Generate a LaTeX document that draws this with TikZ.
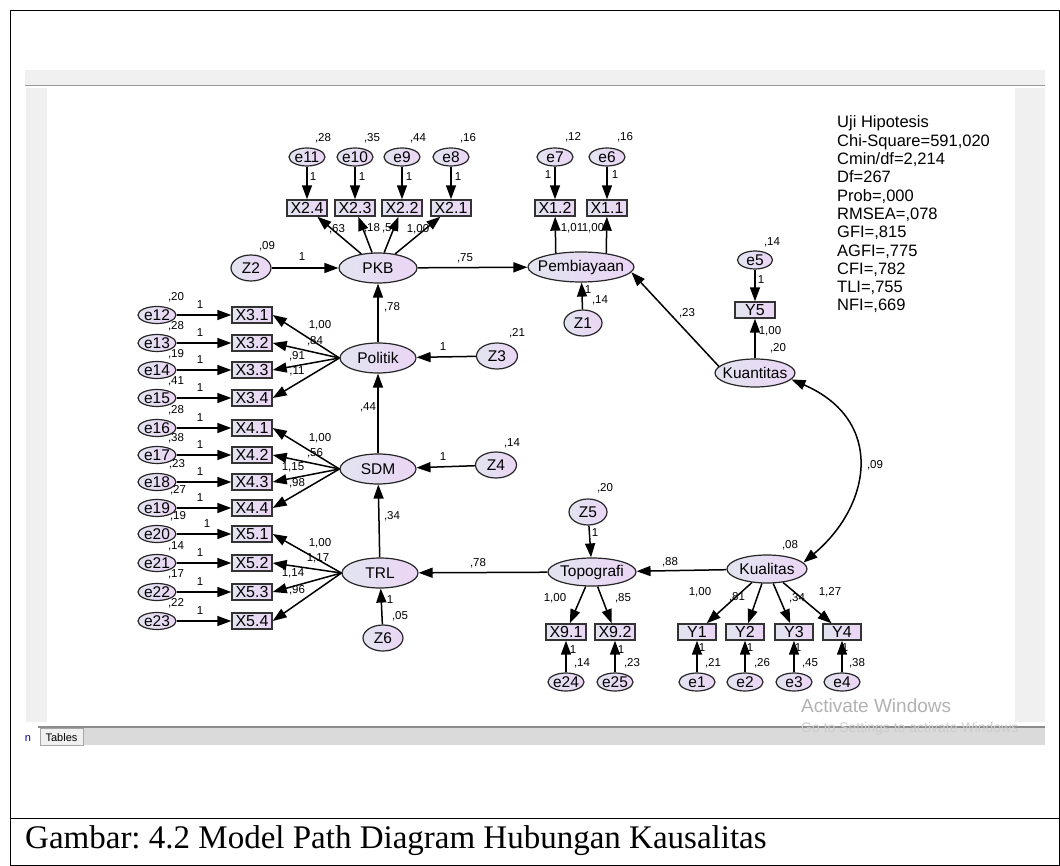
\documentclass[tikz,border=0pt]{standalone}
\usepackage{fontspec}
\setmainfont{Liberation Sans}
\newfontfamily\capfont{Liberation Serif}
\usetikzlibrary{shapes.geometric,arrows.meta}
\pgfdeclarelayer{ui}
\pgfdeclarelayer{edges}
\pgfsetlayers{ui,edges,main}
\frenchspacing

\definecolor{latL}{RGB}{226,228,240}
\definecolor{latR}{RGB}{235,213,245}
\definecolor{uigray}{RGB}{240,240,240}
\definecolor{barg}{RGB}{218,218,218}
\newcommand\mkc[1]{\makebox[0pt]{#1}}
\newcommand\fsz[1]{\fontsize{#1}{#1}\selectfont}

\tikzset{
  lat/.style={ellipse, draw=black!85, line width=1.2pt, left color=latL, right color=latR,
              inner sep=0pt, font=\fsz{15.5}},
  err/.style={ellipse, draw=black!85, line width=1.2pt, left color=latL, right color=latR,
              inner sep=0pt, minimum width=36pt, minimum height=18pt, font=\fsz{15.5}},
  obs/.style={rectangle, draw=black!80, line width=1.4pt, left color=latL, right color=latR,
              inner sep=0pt, minimum width=40pt, minimum height=16pt, font=\fsz{16}},
  lbl/.style={inner sep=0pt, font=\fsz{11.5}},
  arr/.style={line width=1.5pt, -{Triangle[length=14pt,width=10pt]}},
  cov/.style={line width=1.5pt, {Triangle[length=14pt,width=10pt]}-{Triangle[length=14pt,width=10pt]}},
}

\begin{document}
\begin{tikzpicture}[x=1pt,y=-1pt]
\useasboundingbox (0,0) rectangle (1060,866);

% ---------- window chrome and table frame ----------
\begin{pgfonlayer}{ui}
  \fill[white] (0,0) rectangle (1060,866);
  \fill[uigray] (25,70) rectangle (1045,85);
  \draw[black!40, line width=1.5pt] (25,85.5) -- (1045,85.5);
  \fill[uigray] (26,88) rectangle (47,722);
  \fill[uigray] (1015,88) rectangle (1045,722);
  \fill[barg] (40,727) rectangle (1045,745);
  \draw[black!45, line width=1.2pt] (38,727) -- (1045,727);
  \draw[black!35, fill=uigray] (40,728) rectangle (83,745);
  \node[inner sep=0pt, font=\fsz{11}] (tabs) at (61.5,737.5) {Tables};
  \node[inner sep=0pt, font=\fsz{11}, text=blue!60!black] (tabn) at (28,739) {n};
  \draw[line width=1pt] (10.5,10.5) rectangle (1059.5,865.5);
  \draw[line width=1pt] (10.5,818) -- (1059.5,818);
  \begin{scope}
    \clip (0,0) rectangle (1045,866);
    \node[anchor=west, inner sep=0pt, text=black!30, font=\fsz{19}] (wm1) at (801,706) {Activate Windows};
    \node[anchor=west, inner sep=0pt, text=black!20, font=\fsz{14}] (wm2) at (801,729) {Go to Settings to activate Windows};
  \end{scope}
\end{pgfonlayer}

% ---------- latent variables ----------
\node[lat, minimum width=78pt,  minimum height=30pt] (pkb)  at (378,268) {\mkc{PKB}};
\node[lat, minimum width=106pt, minimum height=30pt] (pemb) at (581,267) {\mkc{Pembiayaan}};
\node[lat, minimum width=76pt,  minimum height=30pt] (pol)  at (378,358) {\mkc{Politik}};
\node[lat, minimum width=76pt,  minimum height=30pt] (sdm)  at (378,469) {\mkc{SDM}};
\node[lat, minimum width=76pt,  minimum height=30pt] (trl)  at (380,573) {\mkc{TRL}};
\node[lat, minimum width=88pt,  minimum height=28pt] (topo) at (592,572) {\mkc{Topografi}};
\node[lat, minimum width=80pt,  minimum height=28pt] (kual) at (767,569) {\mkc{Kualitas}};
\node[lat, minimum width=80pt,  minimum height=28pt] (kuan) at (755,373) {\mkc{Kuantitas}};

% ---------- disturbances ----------
\node[lat, minimum width=40pt, minimum height=26pt] (z2) at (251,268) {\mkc{Z2}};
\node[lat, minimum width=38pt, minimum height=26pt] (z1) at (583,323) {\mkc{Z1}};
\node[lat, minimum width=41pt, minimum height=26pt] (z3) at (497,356) {\mkc{Z3}};
\node[lat, minimum width=41pt, minimum height=26pt] (z4) at (496,465) {\mkc{Z4}};
\node[lat, minimum width=40pt, minimum height=26pt] (z6) at (383,638) {\mkc{Z6}};
\node[lat, minimum width=38pt, minimum height=26pt] (z5) at (588,512) {\mkc{Z5}};

% ---------- indicators: PKB and Pembiayaan ----------
\foreach \e/\x in {e11/307, e10/355, e9/402, e8/451, e7/555, e6/607}{
  \node[err] (\e) at (\x,157) {\mkc{\e}};
}
\node[obs] (x24) at (307,208) {X2.4};
\node[obs] (x23) at (355,208) {X2.3};
\node[obs] (x22) at (402,208) {X2.2};
\node[obs] (x21) at (451,208) {X2.1};
\node[obs] (x12) at (555,208) {X1.2};
\node[obs] (x11) at (607,208) {X1.1};

% ---------- left column indicators ----------
\foreach \i/\y/\t in {12/315/X3.1, 13/343/X3.2, 14/370/X3.3, 15/398/X3.4,
                      16/428/X4.1, 17/455/X4.2, 18/482/X4.3, 19/508/X4.4,
                      20/534/X5.1, 21/563/X5.2, 22/592/X5.3, 23/621/X5.4}{
  \node[err, minimum width=38pt, minimum height=17pt] (e\i) at (157,\y) {\mkc{e\i}};
  \node[obs] (b\i) at (252,\y) {\t};
}

% ---------- Topografi, Kualitas, Kuantitas indicators ----------
\node[obs] (x91) at (566,632) {X9.1};
\node[obs] (x92) at (615,632) {X9.2};
\node[err] (e24) at (566,682) {\mkc{e24}};
\node[err] (e25) at (615,682) {\mkc{e25}};
\foreach \k/\x in {1/697, 2/745, 3/794, 4/842}{
  \node[obs, minimum width=38pt] (y\k) at (\x,632) {Y\k};
  \node[err] (e\k) at (\x,682) {\mkc{e\k}};
}
\node[obs] (y5) at (755,310) {Y5};
\node[err, minimum width=35pt] (e5) at (755,260) {\mkc{e5}};

% ---------- connectors ----------
\begin{pgfonlayer}{edges}
  \foreach \e/\b in {e11/x24, e10/x23, e9/x22, e8/x21, e7/x12, e6/x11}
    \draw[arr] (\e) -- (\b);
  \foreach \b in {x24, x23, x22, x21}
    \draw[arr] (pkb) -- (\b);
  \draw[arr] ([xshift=-25pt]pemb.center) -- (x12);
  \draw[arr] ([xshift=25pt]pemb.center) -- (x11);
  \draw[arr] (z2) -- (pkb);
  \draw[arr] (pkb) -- (pemb);
  \draw[arr] (z1) -- (pemb);
  \draw[arr] (pol) -- (pkb);
  \draw[arr] (sdm) -- (pol);
  \draw[arr] (trl) -- (sdm);
  \draw[arr] (z3) -- (pol);
  \draw[arr] (z4) -- (sdm);
  \draw[arr] (z6) -- (trl);
  \foreach \i in {12,...,23}
    \draw[arr] (e\i.east) -- (b\i.west);
  \foreach \i in {12,13,14,15}
    \draw[arr] (pol.west) -- (b\i.east);
  \foreach \i in {16,17,18,19}
    \draw[arr] (sdm.west) -- (b\i.east);
  \foreach \i in {20,21,22,23}
    \draw[arr] (trl.west) -- (b\i.east);
  \draw[arr] (topo) -- (trl);
  \draw[arr] (z5) -- (topo);
  \draw[arr] (kual) -- (topo);
  \draw[arr] (topo) -- (x91);
  \draw[arr] (topo) -- (x92);
  \draw[arr] (e24) -- (x91);
  \draw[arr] (e25) -- (x92);
  \foreach \k in {1,2,3,4}{
    \draw[arr] (kual) -- (y\k);
    \draw[arr] (e\k) -- (y\k);
  }
  \draw[arr] (e5) -- (y5);
  \draw[arr] (kuan) -- (y5);
  \draw[arr] ([xshift=-30pt]kuan.center) -- (pemb.-6);
  \draw[cov] (kuan.-10) .. controls (885,420) and (872,505) .. (kual.10);
\end{pgfonlayer}

% ---------- estimates ----------
\foreach \x/\y/\t [count=\j] in {
  323/138/{,28}, 372/138/{,35}, 418/138/{,44}, 468/138/{,16},
  313/177/1, 362/177/1, 409/177/1, 458/177/1,
  337/229/{,63}, 372/228/{,18}, 390/228/{,56}, 418/229/{1,00},
  267/246/{,09}, 302/257/1, 465/258/{,75},
  573/137/{,12}, 625/137/{,16}, 548/175/1, 615/175/1,
  572/228/{1,01}, 593/228/{1,00},
  588/290/1, 600/300/{,14}, 687/313/{,23},
  517/333/{,21}, 443/347/1, 512/443/{,14}, 443/457/1,
  392/307/{,78}, 368/407/{,44}, 392/516/{,34},
  176/297/{,20}, 176/326/{,28}, 176/354/{,19}, 176/381/{,41},
  176/410/{,28}, 176/438/{,38}, 177/464/{,23}, 178/490/{,27},
  178/516/{,19}, 176/546/{,14}, 176/574/{,17}, 176/603/{,22},
  200/305/1, 200/333/1, 200/360/1, 200/388/1,
  200/418/1, 200/445/1, 200/472/1, 200/498/1,
  207/524/1, 200/553/1, 200/582/1, 200/611/1,
  320/325/{1,00}, 315/341/{,84}, 297/356/{,91}, 297/371/{,11},
  320/438/{1,00}, 315/453/{,56}, 293/467/{1,15}, 297/483/{,98},
  320/543/{1,00}, 318/558/{1,17}, 293/573/{1,14}, 297/590/{,96},
  390/600/1, 400/616/{,05}, 478/563/{,78},
  605/488/{,20}, 595/533/1, 670/562/{,88},
  555/598/{1,00}, 623/598/{,85},
  573/650/1, 582/663/{,14}, 621/650/1, 632/663/{,23},
  790/545/{,08},
  700/592/{1,00}, 737/597/{,81}, 797/598/{,34}, 830/592/{1,27},
  702/648/1, 750/648/1, 798/648/1, 845/648/1,
  713/663/{,21}, 762/663/{,26}, 810/663/{,45}, 857/663/{,38},
  772/242/{,14}, 761/280/1, 770/331/{1,00}, 778/348/{,20},
  875/465/{,09}}{
  \node[lbl] (est\j) at (\x,\y) {\t};
}

% ---------- fit summary ----------
\foreach \t [count=\j from 0] in {Uji Hipotesis, {Chi-Square=591,020}, {Cmin/df=2,214},
    Df=267, {Prob=,000}, {RMSEA=,078}, {GFI=,815}, {AGFI=,775}, {CFI=,782},
    {TLI=,755}, {NFI=,669}}{
  \node[anchor=base west, inner sep=0pt, font=\fsz{16.5}] (fit\j) at (837,128+18.3*\j) {\t};
}

% ---------- caption ----------
\node[anchor=base west, inner sep=0pt, font=\capfont\fsz{33}] (cap) at (25,848)
  {Gambar: 4.2 Model Path Diagram Hubungan Kausalitas};
\end{tikzpicture}
\end{document}
